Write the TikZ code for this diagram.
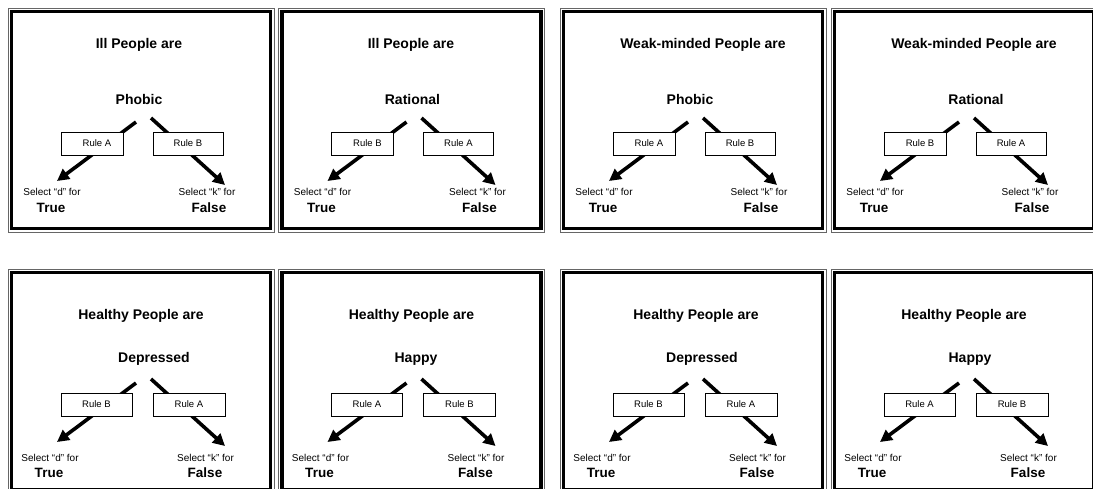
\documentclass[tikz,border=0pt]{standalone}
\usepackage{fontspec}
\setmainfont{Liberation Sans}
\usetikzlibrary{arrows.meta}

\tikzset{
  frameout/.style={draw=black!60, line width=0.9pt},
  framein/.style={draw=black, line width=3.5pt},
  headtxt/.style={font=\bfseries\fontsize{14}{16}\selectfont, inner sep=0pt},
  rulebox/.style={draw, line width=0.9pt, fill=white, minimum height=23pt,
                  inner sep=0pt, font=\fontsize{9.5}{11}\selectfont},
  seltxt/.style={font=\fontsize{10}{12}\selectfont, inner sep=0pt},
  anstxt/.style={font=\bfseries\fontsize{13.5}{15}\selectfont, inner sep=0pt},
  bigarrow/.style={line width=3.6pt, -{Triangle[length=12pt,width=12pt]}}
}

% one answer card: #1 name, #2 centre x, #3 heading, #4 attribute,
% #5 left rule, #6 right rule, #7 heading dx, #8 attribute dx
\newcommand\drawpanel[8]{%
  \begin{scope}[shift={(#2,\rowtop)}]
    \draw[frameout] (-133,0) rectangle (133,224);
    \draw[framein] (-129.5,3.5) rectangle (129.5,220.5);
    \node[headtxt] (#1-title) at (#7,\titley) {#3};
    \node[headtxt] (#1-subj) at (#8,\subjy) {#4};
    \coordinate (#1-ls) at (-5,114);
    \coordinate (#1-lt) at (-84,173);
    \coordinate (#1-rs) at (10,110);
    \coordinate (#1-rt) at (84,177);
    \draw[bigarrow] (#1-ls) -- (#1-lt);
    \draw[bigarrow] (#1-rs) -- (#1-rt);
    \node[rulebox, minimum width=\lbw] (#1-lbox) at (\lbx,135.5) {\hspace*{\lpad}#5};
    \node[rulebox, minimum width=\rbw] (#1-rbox) at (\rbx,135.5) {#6};
    \node[seltxt] (#1-seld) at (\seldx,\sely) {Select “d” for};
    \node[anstxt] (#1-true) at (\truex,\ansy) {True};
    \node[seltxt] (#1-selk) at (\selkx,\sely) {Select “k” for};
    \node[anstxt] (#1-false) at (\falsex,\ansy) {False};
  \end{scope}}

\begin{document}
\begin{tikzpicture}[x=1pt, y=-1pt]
  \fill[white] (0,0) rectangle (1093,488);
  \clip (0,0) rectangle (1093,488);

  % upper row of cards
  \def\rowtop{8}\def\titley{37}\def\subjy{91}
  \def\sely{184}\def\ansy{200}
  \def\lbw{62pt}\def\lbx{-49}\def\rbw{70pt}\def\rbx{47}\def\lpad{10pt}
  \def\seldx{-89}\def\truex{-90}\def\selkx{66}\def\falsex{68}
  \drawpanel{a}{141}{Ill People are}{Phobic}{Rule A}{Rule B}{-2}{-2}
  \drawpanel{b}{411.5}{Ill People are}{Rational}{Rule B}{Rule A}{-0.5}{1}
  \drawpanel{c}{693}{Weak-minded People are}{Phobic}{Rule A}{Rule B}{10}{-3}
  \drawpanel{d}{964}{Weak-minded People are}{Rational}{Rule B}{Rule A}{10}{12}

  % lower row of cards
  \def\rowtop{269}\def\titley{47}\def\subjy{90}
  \def\sely{189}\def\ansy{204}
  \def\lbw{71pt}\def\lbx{-44.5}\def\rbw{72pt}\def\rbx{48}\def\lpad{0pt}
  \def\seldx{-91}\def\truex{-92}\def\selkx{64.5}\def\falsex{64}
  \drawpanel{e}{141}{Healthy People are}{Depressed}{Rule B}{Rule A}{0}{13}
  \drawpanel{f}{411.5}{Healthy People are}{Happy}{Rule A}{Rule B}{0}{4.5}
  \drawpanel{g}{693}{Healthy People are}{Depressed}{Rule B}{Rule A}{3}{9}
  \drawpanel{h}{964}{Healthy People are}{Happy}{Rule A}{Rule B}{0}{6}
\end{tikzpicture}
\end{document}
